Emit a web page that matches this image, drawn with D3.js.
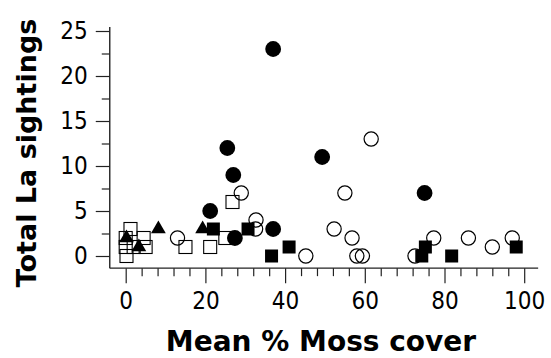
<!DOCTYPE html>
<html>
<head>
<meta charset="utf-8">
<script src="https://cdn.jsdelivr.net/npm/d3@7"></script>
<style>
  body { margin: 0; background: #fff; }
  text { font-family: "DejaVu Sans", sans-serif; }
</style>
</head>
<body>
<div id="chart"></div>
<script>
// data
var filledCircleX = [37, 25.5, 27, 49.3, 21.2, 27.4, 37, 75];
var filledCircleY = [23, 12, 9, 11, 5, 2, 3, 7];

var openCircleX = [61.6, 29, 55, 32.7, 32.6, 52.3, 56.8, 45.2, 58, 59.4, 77.3, 72.6, 86, 92, 97, 13];
var openCircleY = [13, 7, 7, 4, 3, 3, 2, 0, 0, 0, 2, 0, 2, 1, 2, 2];

var filledSquareX = [22, 30.7, 36.6, 41, 75.2, 74.3, 81.8, 98];
var filledSquareY = [3, 3, 0, 1, 1, 0, 0, 1];

var openSquareX = [26.8, 21.2, 25, 1.2, 0, 0.2, 4.5, 5, 15, 2, 0];
var openSquareY = [6, 1, 2, 3, 2, 0, 2, 1, 1, 1, 1];

var triangleX = [0.2, 3.3, 8.2, 19.3];
var triangleY = [2, 1, 3, 3];

var xTicks = [0, 20, 40, 60, 80, 100];
var yTicks = [0, 5, 10, 15, 20, 25];

var svgWidth = 551;
var svgHeight = 358;

var svg = d3.select("#chart")
  .append("svg")
  .attr("width", svgWidth)
  .attr("height", svgHeight);

var x = d3.scaleLinear().domain([0, 100]).range([125.7, 524.2]);
var y = d3.scaleLinear().domain([0, 25]).range([256, 31]);

// axis lines sit a little outside the data range
var axisLeftX = x(-4);
var axisBottomY = y(-1.35);

svg.append("line")
  .attr("x1", axisLeftX).attr("x2", axisLeftX)
  .attr("y1", y(25.45)).attr("y2", axisBottomY)
  .attr("stroke", "#222").attr("stroke-width", 1.4);

svg.append("line")
  .attr("x1", axisLeftX).attr("x2", x(103.5))
  .attr("y1", axisBottomY).attr("y2", axisBottomY)
  .attr("stroke", "#222").attr("stroke-width", 1.4);

var tickFont = "'DejaVu Sans Condensed', 'DejaVu Sans', sans-serif";

// y ticks
var yMinor = d3.range(0, 25.01, 2.5).filter(d => d % 5 !== 0);
svg.append("g")
  .attr("transform", `translate(${axisLeftX},0)`)
  .call(d3.axisLeft(y).tickValues(yMinor).tickSize(8).tickFormat(""))
  .call(g => g.select(".domain").remove());

var yAxis = svg.append("g")
  .attr("transform", `translate(${axisLeftX},0)`)
  .call(d3.axisLeft(y).tickValues(yTicks).tickSize(14).tickPadding(8))
  .call(g => g.select(".domain").remove());
yAxis.selectAll("text")
  .style("font-size", "24px")
  .style("font-family", tickFont)
  .attr("fill", "#000");

// x ticks
var xMinor = d3.range(0, 100.01, 4).filter(d => d % 20 !== 0);
svg.append("g")
  .attr("transform", `translate(0,${axisBottomY})`)
  .call(d3.axisBottom(x).tickValues(xMinor).tickSize(8).tickFormat(""))
  .call(g => g.select(".domain").remove());

var xAxis = svg.append("g")
  .attr("transform", `translate(0,${axisBottomY})`)
  .call(d3.axisBottom(x).tickValues(xTicks).tickSize(15).tickPadding(9))
  .call(g => g.select(".domain").remove());
xAxis.selectAll("text")
  .style("font-size", "24px")
  .style("font-family", tickFont)
  .attr("fill", "#000");

svg.selectAll(".tick line").attr("stroke", "#222").attr("stroke-width", 1.2);

// points
function pts(xs, ys) {
  return xs.map((d, i) => ({x: d, y: ys[i]}));
}

var sq = 13;
svg.append("g").selectAll("rect")
  .data(pts(openSquareX, openSquareY))
  .enter()
  .append("rect")
  .attr("x", d => x(d.x) - sq / 2)
  .attr("y", d => y(d.y) - sq / 2)
  .attr("width", sq).attr("height", sq)
  .attr("fill", "none")
  .attr("stroke", "#000")
  .attr("stroke-width", 1.1);

svg.append("g").selectAll("circle")
  .data(pts(openCircleX, openCircleY))
  .enter()
  .append("circle")
  .attr("cx", d => x(d.x))
  .attr("cy", d => y(d.y))
  .attr("r", 7.1)
  .attr("fill", "none")
  .attr("stroke", "#000")
  .attr("stroke-width", 1.2);

svg.append("g").selectAll("rect")
  .data(pts(filledSquareX, filledSquareY))
  .enter()
  .append("rect")
  .attr("x", d => x(d.x) - sq / 2)
  .attr("y", d => y(d.y) - sq / 2)
  .attr("width", sq).attr("height", sq)
  .attr("fill", "#000");

svg.append("g").selectAll("circle")
  .data(pts(filledCircleX, filledCircleY))
  .enter()
  .append("circle")
  .attr("cx", d => x(d.x))
  .attr("cy", d => y(d.y))
  .attr("r", 7.9)
  .attr("fill", "#000");

var tri = d3.symbol().type(d3.symbolTriangle).size(95);
svg.append("g").selectAll("path")
  .data(pts(triangleX, triangleY))
  .enter()
  .append("path")
  .attr("d", tri)
  .attr("transform", d => `translate(${x(d.x)},${y(d.y)})`)
  .attr("fill", "#000");

// axis titles
svg.append("text")
  .attr("x", x(50) - 4)
  .attr("y", 351)
  .attr("text-anchor", "middle")
  .style("font-size", "28px")
  .style("font-weight", "bold")
  .text("Mean % Moss cover");

svg.append("text")
  .attr("transform", `translate(36, 153) rotate(-90)`)
  .attr("text-anchor", "middle")
  .style("font-size", "27px")
  .style("font-weight", "bold")
  .text("Total La sightings");
</script>
</body>
</html>
